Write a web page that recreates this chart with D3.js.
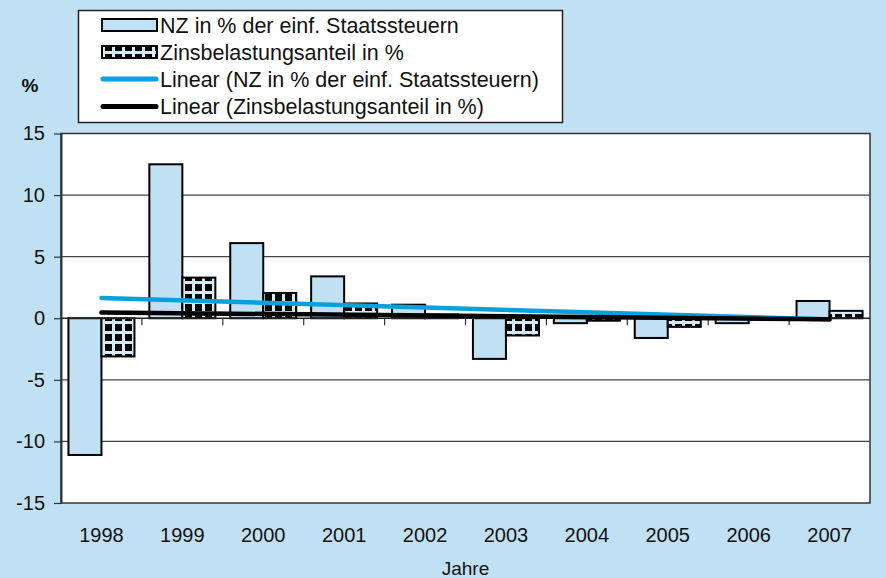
<!DOCTYPE html>
<html>
<head>
<meta charset="utf-8">
<script src="https://cdn.jsdelivr.net/npm/d3@7"></script>
<style>
  body { margin: 0; background: #c0e0f4; }
  svg { display: block; font-family: "Liberation Sans", Arial, sans-serif; }
</style>
</head>
<body>
<div class="chart"></div>
<script>
// Data
let years = ["1998", "1999", "2000", "2001", "2002", "2003", "2004", "2005", "2006", "2007"];
let nzValues = [-11.1, 12.5, 6.1, 3.4, 1.1, -3.3, -0.4, -1.6, -0.4, 1.4];
let zinsValues = [-3.1, 3.3, 2.05, 1.2, 0.3, -1.4, -0.2, -0.7, -0.1, 0.6];
let yTicks = [-15, -10, -5, 0, 5, 10, 15];
let seriesNames = ["NZ in % der einf. Staatssteuern", "Zinsbelastungsanteil in %"];
let legendLabels = [
  "NZ in % der einf. Staatssteuern",
  "Zinsbelastungsanteil in %",
  "Linear (NZ in % der einf. Staatssteuern)",
  "Linear (Zinsbelastungsanteil in %)"
];

// Set up chart
let svgWidth = 886;
let svgHeight = 578;
let plot = { left: 61, right: 870, top: 133.5, bottom: 503 };

let bgBlue = "#c0e0f4";
let trendBlue = "#0aa0dc";

let svg = d3.select(".chart")
  .append("svg")
  .attr("width", svgWidth)
  .attr("height", svgHeight);

svg.append("rect")
  .attr("width", svgWidth)
  .attr("height", svgHeight)
  .attr("fill", bgBlue);

// Pattern for the second series: black squares on a light blue grid
let defs = svg.append("defs");
let pat = defs.append("pattern")
  .attr("id", "grid")
  .attr("patternUnits", "userSpaceOnUse")
  .attr("x", 2)
  .attr("y", 1)
  .attr("width", 10)
  .attr("height", 10);
pat.append("rect").attr("width", 10).attr("height", 10).attr("fill", "#d4ebf8");
pat.append("rect").attr("x", 3).attr("y", 3).attr("width", 7).attr("height", 7).attr("fill", "#000");

// Scales
let x0 = d3.scaleBand()
  .domain(years)
  .range([plot.left, plot.right]);

let x1 = d3.scaleBand()
  .domain(seriesNames)
  .range([x0.bandwidth() * 0.092, x0.bandwidth() * 0.908]);

let y = d3.scaleLinear()
  .domain([-15, 15])
  .range([plot.bottom, plot.top]);

// Plot area
svg.append("rect")
  .attr("x", plot.left)
  .attr("y", plot.top)
  .attr("width", plot.right - plot.left)
  .attr("height", plot.bottom - plot.top)
  .attr("fill", "#fff")
  .attr("stroke", "#333")
  .attr("stroke-width", 1.5);

// Gridlines
svg.append("g")
  .selectAll("line")
  .data(yTicks.filter(d => d !== 0 && Math.abs(d) !== 15))
  .enter().append("line")
  .attr("x1", plot.left)
  .attr("x2", plot.right)
  .attr("y1", d => y(d))
  .attr("y2", d => y(d))
  .attr("stroke", "#444")
  .attr("stroke-width", 1.2);

// Bars
let series = [
  { name: seriesNames[0], values: nzValues, fill: bgBlue },
  { name: seriesNames[1], values: zinsValues, fill: "url(#grid)" }
];

series.forEach(function(s) {
  svg.append("g")
    .selectAll("rect")
    .data(s.values)
    .enter().append("rect")
    .attr("x", (d, i) => x0(years[i]) + x1(s.name))
    .attr("y", d => y(Math.max(0, d)))
    .attr("width", x1.bandwidth())
    .attr("height", d => Math.abs(y(d) - y(0)))
    .attr("fill", s.fill)
    .attr("stroke", "#000")
    .attr("stroke-width", 2);
});

// X axis at zero with ticks at category boundaries
svg.append("line")
  .attr("x1", plot.left)
  .attr("x2", plot.right)
  .attr("y1", y(0))
  .attr("y2", y(0))
  .attr("stroke", "#222")
  .attr("stroke-width", 1.5);

svg.append("g")
  .selectAll("line")
  .data(years.slice(1))
  .enter().append("line")
  .attr("x1", d => x0(d))
  .attr("x2", d => x0(d))
  .attr("y1", y(0))
  .attr("y2", y(0) + 7)
  .attr("stroke", "#333")
  .attr("stroke-width", 1.2);

// Trend lines (least squares, as the spreadsheet does)
function linearFit(vals) {
  let n = vals.length;
  let mx = d3.mean(vals, (d, i) => i);
  let my = d3.mean(vals);
  let sxy = d3.sum(vals, (d, i) => (i - mx) * (d - my));
  let sxx = d3.sum(vals, (d, i) => (i - mx) * (i - mx));
  let b = sxy / sxx;
  return [0, n - 1].map(i => [i, my + b * (i - mx)]);
}

let trendLine = d3.line()
  .x(d => x0(years[d[0]]) + x0.bandwidth() / 2)
  .y(d => y(d[1]));

svg.append("path")
  .datum(linearFit(nzValues))
  .attr("d", trendLine)
  .attr("fill", "none")
  .attr("stroke", trendBlue)
  .attr("stroke-width", 4.5)
  .attr("stroke-linecap", "round");

svg.append("path")
  .datum(linearFit(zinsValues))
  .attr("d", trendLine)
  .attr("fill", "none")
  .attr("stroke", "#000")
  .attr("stroke-width", 4.5)
  .attr("stroke-linecap", "round");

// Y axis
let leftAxis = d3.axisLeft(y)
  .tickValues(yTicks)
  .tickFormat(d => String(d))
  .tickSize(7)
  .tickSizeOuter(0)
  .tickPadding(9);

let yAxisG = svg.append("g")
  .attr("transform", `translate(${plot.left}, 0)`)
  .call(leftAxis);
yAxisG.select(".domain").attr("stroke", "#333").attr("stroke-width", 2);
yAxisG.selectAll(".tick line").attr("stroke", "#333").attr("stroke-width", 1.2);
yAxisG.selectAll("text")
  .attr("font-size", 20)
  .attr("font-family", "Liberation Sans, Arial, sans-serif")
  .attr("fill", "#111");

// X labels
let bottomAxis = d3.axisBottom(x0)
  .tickSize(0)
  .tickPadding(24.5);

let xAxisG = svg.append("g")
  .attr("transform", `translate(0, ${plot.bottom})`)
  .call(bottomAxis);
xAxisG.select(".domain").remove();
xAxisG.selectAll("text")
  .attr("font-size", 20)
  .attr("font-family", "Liberation Sans, Arial, sans-serif")
  .attr("fill", "#111");

// Axis titles
svg.append("text")
  .attr("x", 30)
  .attr("y", 92)
  .attr("text-anchor", "middle")
  .attr("font-size", 19)
  .attr("font-weight", "bold")
  .attr("fill", "#111")
  .text("%");

svg.append("text")
  .attr("x", (plot.left + plot.right) / 2)
  .attr("y", 575)
  .attr("text-anchor", "middle")
  .attr("font-size", 19)
  .attr("fill", "#111")
  .text("Jahre");

// Legend
let legend = svg.append("g");
legend.append("rect")
  .attr("x", 78.5)
  .attr("y", 10.5)
  .attr("width", 484)
  .attr("height", 112)
  .attr("fill", "#fff")
  .attr("stroke", "#222")
  .attr("stroke-width", 1.5);

let rowY = [25, 52, 79, 106.5];

legend.append("rect")
  .attr("x", 102).attr("y", rowY[0] - 6)
  .attr("width", 55).attr("height", 12)
  .attr("fill", bgBlue).attr("stroke", "#000").attr("stroke-width", 2);

legend.append("rect")
  .attr("x", 102).attr("y", rowY[1] - 6)
  .attr("width", 55).attr("height", 12)
  .attr("fill", "url(#grid)").attr("stroke", "#000").attr("stroke-width", 2);

legend.append("line")
  .attr("x1", 103).attr("x2", 156)
  .attr("y1", rowY[2]).attr("y2", rowY[2])
  .attr("stroke", trendBlue).attr("stroke-width", 5).attr("stroke-linecap", "round");

legend.append("line")
  .attr("x1", 103).attr("x2", 156)
  .attr("y1", rowY[3]).attr("y2", rowY[3])
  .attr("stroke", "#000").attr("stroke-width", 5).attr("stroke-linecap", "round");

legend.selectAll("text.lab")
  .data(legendLabels)
  .enter().append("text")
  .attr("class", "lab")
  .attr("x", 160)
  .attr("y", (d, i) => rowY[i])
  .attr("dy", "0.35em")
  .attr("font-size", 21.5)
  .attr("fill", "#111")
  .text(d => d);
</script>
</body>
</html>
